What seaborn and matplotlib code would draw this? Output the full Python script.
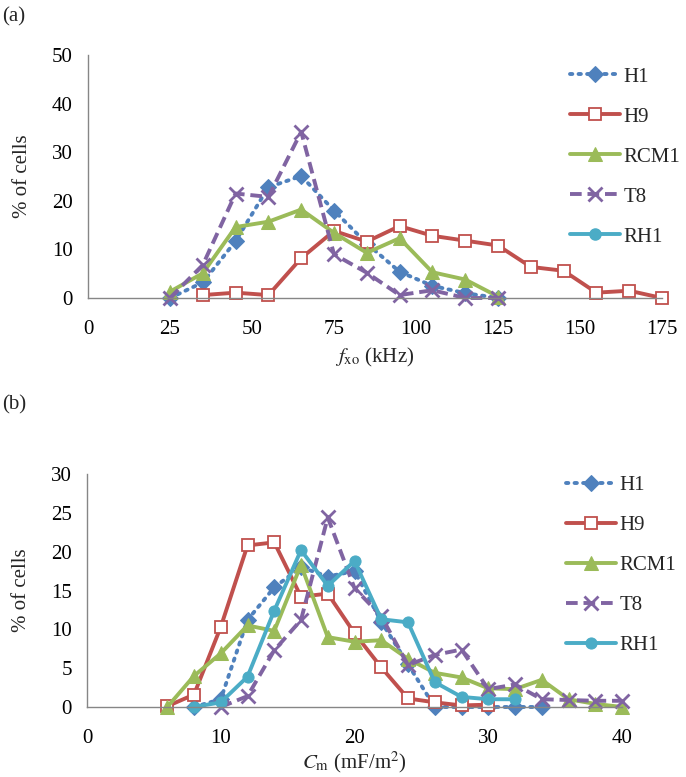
import numpy as np
import pandas as pd
import matplotlib
matplotlib.use("Agg")
import matplotlib.pyplot as plt
import seaborn as sns

sns.set_style("white")
plt.rcParams['font.family'] = ['Liberation Serif', 'DejaVu Serif']
plt.rcParams['mathtext.fontset'] = 'stix'

nan = np.nan
# ---- Panel (a): f_xo (kHz) ----
fxo = [25, 35, 45, 55, 65, 75, 85, 95, 105, 115, 125, 135, 145, 155, 165, 175]
a_H1 = [0, 3.2, 11.7, 22.8, 25.1, 18.0, 11.2, 5.4, 2.5, 1.0, 0, nan, nan, nan, nan, nan]
a_H9 = [nan, 0.6, 1.1, 0.6, 8.2, 13.8, 11.6, 14.8, 12.8, 11.8, 10.8, 6.4, 5.6, 1.1, 1.5, 0]
a_RCM1 = [1.3, 5.1, 14.6, 15.7, 18.2, 13.4, 9.3, 12.3, 5.3, 3.8, 0.3, nan, nan, nan, nan, nan]
a_T8 = [0, 6.8, 21.5, 20.8, 34.2, 9.0, 5.2, 0.6, 1.6, 0, 0, nan, nan, nan, nan, nan]
a_RH1 = [nan] * 16

# ---- Panel (b): Cm (mF/m2) ----
cm = [6, 8, 10, 12, 14, 16, 18, 20, 22, 24, 26, 28, 30, 32, 34, 36, 38, 40]
b_H1 = [nan, 0, 1.0, 11.2, 15.4, 18.0, 16.8, 17.5, 11.0, 5.5, 0, 0, 0, 0, 0, nan, nan, nan]
b_H9 = [0.1, 1.6, 10.3, 20.8, 21.2, 14.2, 14.6, 9.5, 5.1, 1.1, 0.6, 0.2, 0.3, nan, nan, nan, nan, nan]
b_RCM1 = [0, 4.0, 6.9, 10.5, 9.8, 18.3, 9.0, 8.4, 8.6, 6.2, 4.4, 3.8, 2.4, 2.3, 3.5, 1.0, 0.4, 0]
b_T8 = [nan, nan, 0, 1.4, 7.3, 11.2, 24.4, 15.3, 11.7, 5.4, 6.7, 7.4, 2.3, 2.9, 1.0, 0.9, 0.8, 0.8]
b_RH1 = [nan, 0, 0.6, 3.9, 12.4, 20.2, 15.6, 18.8, 11.3, 10.9, 3.2, 1.3, 1.0, 1.0, nan, nan, nan, nan]

names = ["H1", "H9", "RCM1", "T8", "RH1"]
colors = {"H1": "#4F81BD", "H9": "#C0504D", "RCM1": "#9BBB59", "T8": "#8064A2", "RH1": "#4BACC6"}
styles = {
    "H1": dict(marker="D", linestyle=(0, (0.6, 1.6)), markersize=8, dash_capstyle="round"),
    "H9": dict(marker="s", linestyle="-", markersize=8, markerfacecolor="white", markeredgewidth=1.3),
    "RCM1": dict(marker="^", linestyle="-", markersize=10),
    "T8": dict(marker="x", linestyle=(0, (3, 1.5)), markersize=10, markeredgewidth=2.0),
    "RH1": dict(marker="o", linestyle="-", markersize=8),
}

fig = plt.figure(figsize=(6.86, 7.77), dpi=100)
ax1 = fig.add_axes([88/686, 1-298/777, 574/686, 243/777])
ax2 = fig.add_axes([87/686, 1-707/777, 535/686, 233/777])

spine_col = "#868686"
fs = 15

def draw(ax, x, series, xlim, ylim, xticks, yticks, xlabel, leg_y, leg_x, xlabelpad):
    for n, vals in zip(names, series):
        df = pd.DataFrame({"x": x, "y": vals})
        st = styles[n].copy()
        kw = dict(color=colors[n], linewidth=2.8, label=n, markeredgecolor=colors[n], **st)
        if df["y"].notna().sum() == 0:
            ax.plot([], [], **kw)
        else:
            sns.lineplot(data=df, x="x", y="y", ax=ax, sort=False, **kw)
    for l in ax.lines:
        l.set_clip_on(False)
    ax.set_xlim(*xlim)
    ax.set_ylim(*ylim)
    ax.set_xticks(xticks)
    ax.set_yticks(yticks)
    for s in ["top", "right"]:
        ax.spines[s].set_visible(False)
    for s in ["left", "bottom"]:
        ax.spines[s].set_color(spine_col)
        ax.spines[s].set_linewidth(1.0)
    ax.tick_params(axis="both", direction="out", length=5, width=1.0, color=spine_col,
                   labelsize=fs, labelcolor="black", pad=6)
    ax.tick_params(axis="x", pad=11)
    ax.set_xlabel(xlabel, fontsize=fs, labelpad=xlabelpad)
    ax.set_ylabel("% of cells", fontsize=fs, labelpad=14)
    ax.legend(loc="center left", bbox_to_anchor=(leg_x, leg_y), bbox_transform=fig.transFigure,
              frameon=False, fontsize=fs, handlelength=2.4, handletextpad=0.15,
              labelspacing=0.98, borderaxespad=0, borderpad=0, numpoints=1)

draw(ax1, fxo, [a_H1, a_H9, a_RCM1, a_T8, a_RH1], (0, 175), (0, 50),
     [0, 25, 50, 75, 100, 125, 150, 175], [0, 10, 20, 30, 40, 50],
     r"$f_{\mathrm{xo}}$ (kHz)", 1-157/777, 570/686, 5)
draw(ax2, cm, [b_H1, b_H9, b_RCM1, b_T8, b_RH1], (0, 40), (0, 30),
     [0, 10, 20, 30, 40], [0, 5, 10, 15, 20, 25, 30],
     r"$C_{\mathrm{m}}$ (mF/m$^2$)", 1-565/777, 566/686, 1)

fig.text(0.003, 1-17/777, "(a)", fontsize=fs, va="center", ha="left")
fig.text(0.003, 1-405/777, "(b)", fontsize=fs, va="center", ha="left")

fig.savefig("out.png", dpi=100, facecolor="white")
